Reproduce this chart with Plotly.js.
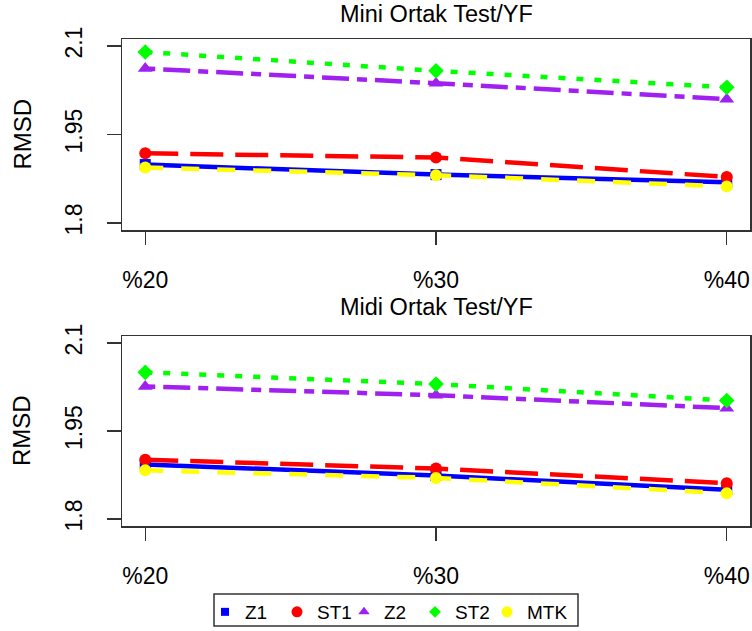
<!DOCTYPE html>
<html>
<head>
<meta charset="utf-8">
<script src="https://cdn.plot.ly/plotly-3.0.1.min.js"></script>
<style>
  html, body { margin: 0; padding: 0; background: #fff; }
  #chart { width: 752px; height: 631px; }
</style>
</head>
<body>
<div id="chart"></div>
<script>
// Proportion levels on the x axis
const categories = ['%20', '%30', '%40'];

// RMSD, "Mini Ortak Test/YF"
const miniZ1  = [1.899, 1.882, 1.869];
const miniST1 = [1.918, 1.911, 1.878];
const miniZ2  = [2.062, 2.037, 2.010];
const miniST2 = [2.090, 2.058, 2.030];
const miniMTK = [1.894, 1.881, 1.862];

// RMSD, "Midi Ortak Test/YF"
const midiZ1  = [1.893, 1.874, 1.850];
const midiST1 = [1.901, 1.886, 1.861];
const midiZ2  = [2.026, 2.011, 1.989];
const midiST2 = [2.050, 2.030, 2.002];
const midiMTK = [1.883, 1.870, 1.844];

const yTickVals = [1.8, 1.95, 2.1];
const yTickText = ['1.8', '1.95', '2.1'];

const panelTitles = ['Mini Ortak Test/YF', 'Midi Ortak Test/YF'];
const yTitle = 'RMSD';

// Line/marker style per series; legX is the left edge (px) of its legend key
const seriesStyle = [
  { name: 'Z1',  color: '#0000FF', dash: 'solid',             symbol: 'square',      size: 11, legSize: 8,  legX: 205 },
  { name: 'ST1', color: '#FF0000', dash: '33px,12px',         symbol: 'circle',      size: 12, legSize: 11, legX: 277 },
  { name: 'Z2',  color: '#A020F0', dash: '10px,8px,27px,8px', symbol: 'triangle-up', size: 13, legSize: 10, legX: 344 },
  { name: 'ST2', color: '#00FF00', dash: '7px,11px',          symbol: 'diamond',     size: 12, legSize: 9,  legX: 415 },
  { name: 'MTK', color: '#FFFF00', dash: '18px,18px',         symbol: 'circle',      size: 12, legSize: 11, legX: 487 }
];

const panels = [
  { data: [miniZ1, miniST1, miniZ2, miniST2, miniMTK], xa: 'x',  ya: 'y'  },
  { data: [midiZ1, midiST1, midiZ2, midiST2, midiMTK], xa: 'x2', ya: 'y2' }
];

const W = 752, H = 631;
const font = { family: 'Liberation Sans, Arial, sans-serif', color: '#000' };
const f = size => Object.assign({ size: size }, font);

const traces = [];
panels.forEach(p => {
  p.data.forEach((vals, i) => {
    const s = seriesStyle[i];
    traces.push({
      x: categories, y: vals, xaxis: p.xa, yaxis: p.ya,
      type: 'scatter', mode: 'lines+markers', showlegend: false,
      line: { color: s.color, width: 4.5, dash: s.dash },
      marker: { color: s.color, symbol: s.symbol, size: s.size },
      hoverinfo: 'skip'
    });
  });
});

// Point-only legend keys, one small legend each so they can be spaced freely
const legends = {};
seriesStyle.forEach((s, i) => {
  const key = i === 0 ? 'legend' : 'legend' + (i + 1);
  traces.push({
    x: [null], y: [null], xaxis: 'x', yaxis: 'y',
    type: 'scatter', mode: 'markers', name: s.name, showlegend: true, legend: key,
    marker: { color: s.color, symbol: s.symbol, size: s.legSize }
  });
  legends[key] = {
    orientation: 'h', xref: 'paper', yref: 'paper',
    x: s.legX / W, y: 1 - 593 / H, xanchor: 'left', yanchor: 'top',
    borderwidth: 0, bgcolor: 'rgba(0,0,0,0)', font: f(19)
  };
});

const xDom = [122 / W, 750 / W];
const topDom = [1 - 230 / H, 1 - 39 / H];
const botDom = [1 - 526 / H, 1 - 336 / H];

function xAxis(domain, anchor) {
  return {
    domain: domain, anchor: anchor, type: 'category',
    range: [-0.08, 2.08], showgrid: false, zeroline: false,
    showline: true, mirror: true, linecolor: '#333', linewidth: 1.5,
    ticks: 'outside', ticklen: 13, tickwidth: 1.5, tickcolor: '#333',
    ticklabelstandoff: 16, tickfont: f(23), automargin: false
  };
}
function yAxis(domain, anchor) {
  return {
    domain: domain, anchor: anchor, range: [1.788, 2.112],
    tickvals: yTickVals, ticktext: yTickText, tickangle: -90,
    showgrid: false, zeroline: false,
    showline: true, mirror: true, linecolor: '#333', linewidth: 1.5,
    ticks: 'outside', ticklen: 14, tickwidth: 1.5, tickcolor: '#333',
    ticklabelstandoff: 15, tickfont: f(23), automargin: false
  };
}

function panelAnnotations(title, titleY, dom) {
  const mid = (dom[0] + dom[1]) / 2;
  return [
    { text: title, xref: 'paper', yref: 'paper', x: 436 / W, y: 1 - titleY / H,
      xanchor: 'center', yanchor: 'middle', showarrow: false, font: f(23.5) },
    { text: yTitle, xref: 'paper', yref: 'paper', x: 22 / W, y: mid, textangle: -90,
      xanchor: 'center', yanchor: 'middle', showarrow: false, font: f(24) }
  ];
}

// Frame around the legend keys
const legendFrame = {
  type: 'rect', xref: 'paper', yref: 'paper', layer: 'above',
  x0: 214 / W, x1: 578 / W, y0: 1 - 626 / H, y1: 1 - 594 / H,
  line: { color: '#333', width: 1.5 }, fillcolor: 'rgba(0,0,0,0)'
};

const layout = Object.assign({
  width: W, height: H,
  margin: { l: 0, r: 0, t: 0, b: 0 },
  paper_bgcolor: '#fff', plot_bgcolor: '#fff',
  font: font,
  xaxis: xAxis(xDom, 'y'),
  yaxis: yAxis(topDom, 'x'),
  xaxis2: xAxis(xDom, 'y2'),
  yaxis2: yAxis(botDom, 'x2'),
  annotations: panelAnnotations(panelTitles[0], 14, topDom)
    .concat(panelAnnotations(panelTitles[1], 307, botDom)),
  shapes: [legendFrame],
  showlegend: true
}, legends);

Plotly.newPlot('chart', traces, layout, { staticPlot: true, displayModeBar: false });
</script>
</body>
</html>
